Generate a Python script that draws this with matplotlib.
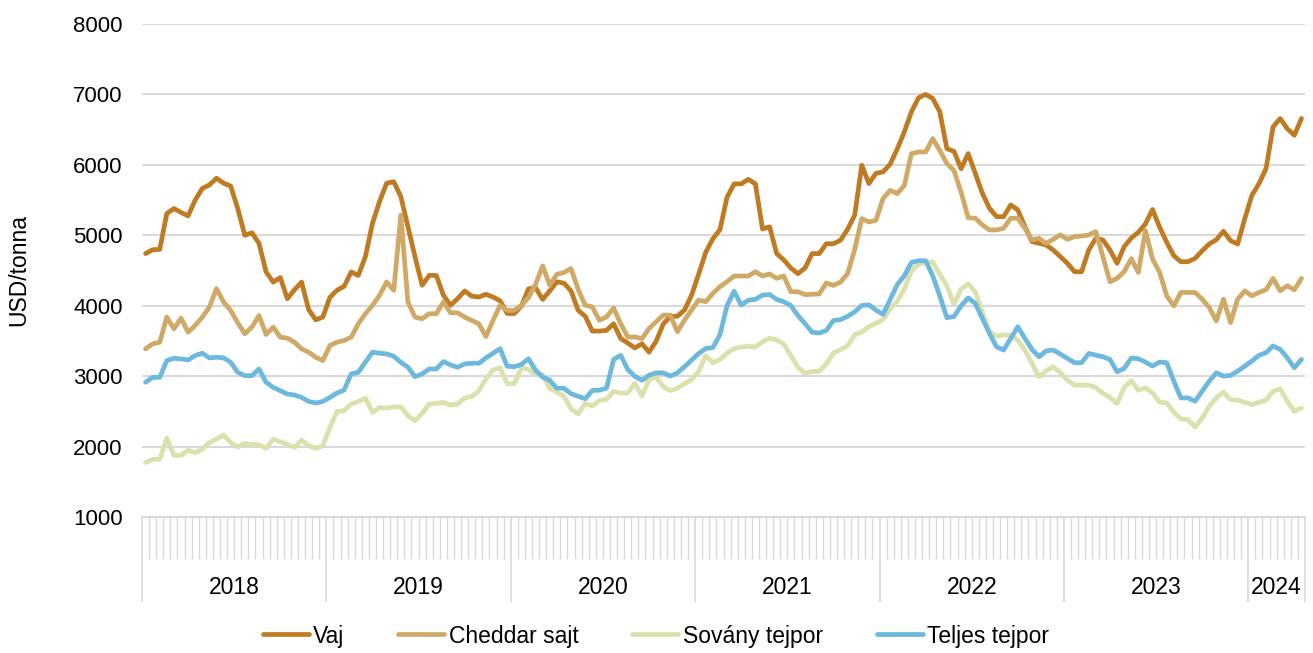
import matplotlib
matplotlib.use("Agg")
import matplotlib.pyplot as plt
from matplotlib.transforms import blended_transform_factory

plt.rcParams['font.family'] = ['Liberation Sans', 'DejaVu Sans']

years = ["2018", "2019", "2020", "2021", "2022", "2023", "2024"]
points_per_year = [26, 26, 26, 26, 26, 26, 8]

vaj = [4740, 4795, 4800, 5310, 5380, 5325, 5275, 5500, 5665, 5715, 5810, 5740, 5700, 5380, 5000, 5035, 4885, 4480, 4335, 4400, 4100, 4225, 4335, 3945,
       3800, 3838, 4120, 4220, 4275, 4480, 4430, 4695, 5170, 5480, 5740, 5760, 5550, 5120, 4695, 4290, 4430, 4430, 4150, 4005, 4100, 4210, 4135,
       4123, 4162, 4123, 4070, 3890, 3890, 3995, 4240, 4255, 4090, 4210, 4340, 4320, 4210, 3935, 3850, 3640, 3640, 3650, 3745, 3535, 3470, 3400,
       3460, 3340, 3495, 3740, 3850, 3850, 3940, 4150, 4450, 4760, 4950, 5080, 5540, 5730, 5730, 5795, 5730, 5090, 5120, 4740, 4650, 4535, 4455,
       4535, 4740, 4740, 4880, 4880, 4930, 5085, 5285, 5995, 5735, 5880, 5900, 6010, 6225, 6468, 6753, 6952, 7000, 6943, 6753, 6230, 6192, 5945, 6160,
       5882, 5597, 5384, 5265, 5265, 5431, 5360, 5123, 4910, 4886, 4863, 4791, 4697, 4602, 4483, 4483, 4791, 4957, 4934, 4791, 4602, 4839, 4960,
       5043, 5162, 5366, 5114, 4900, 4710, 4625, 4625, 4672, 4781, 4876, 4938, 5057, 4924, 4876, 5233, 5565, 5732, 5945, 6539, 6658, 6515, 6420, 6658]

cheddar = [3387, 3458, 3482, 3838, 3672, 3824, 3625, 3720, 3838, 3981, 4242, 4052, 3933, 3758, 3601, 3696, 3862, 3591, 3696, 3553, 3539, 3482, 3387, 3340,
           3268, 3221, 3435, 3482, 3506, 3553, 3743, 3886, 4005, 4147, 4337, 4218, 5287, 4052, 3838, 3815, 3886, 3886, 4052, 3900, 3900, 3838, 3790,
           3743, 3563, 3791, 4005, 3933, 3933, 4005, 4115, 4305, 4565, 4292, 4446, 4470, 4528, 4232, 4007, 3983, 3793, 3841, 3966, 3746, 3556, 3556,
           3533, 3678, 3773, 3867, 3867, 3630, 3796, 3938, 4081, 4057, 4175, 4270, 4341, 4422, 4422, 4422, 4483, 4422, 4450, 4389, 4422, 4199, 4199,
           4158, 4162, 4168, 4323, 4288, 4335, 4455, 4798, 5237, 5190, 5213, 5522, 5638, 5592, 5708, 6159, 6183, 6183, 6373, 6207, 6017, 5922, 5613, 5250,
           5242, 5147, 5076, 5076, 5100, 5242, 5242, 5100, 4934, 4957, 4886, 4943, 5005, 4943, 4981, 4990, 5005, 5052, 4697, 4341, 4389, 4483, 4668,
           4473, 5067, 4663, 4473, 4140, 3998, 4188, 4188, 4188, 4093, 3974, 3784, 4093, 3760, 4093, 4211, 4140, 4188, 4226, 4387, 4211, 4283, 4226, 4387]

sovany = [1772, 1819, 1819, 2119, 1876, 1876, 1948, 1914, 1962, 2057, 2105, 2166, 2057, 1995, 2043, 2033, 2024, 1976, 2105, 2067, 2033, 1986, 2090, 2010,
          1976, 2010, 2271, 2499, 2508, 2603, 2641, 2689, 2485, 2556, 2546, 2565, 2565, 2437, 2366, 2470, 2603, 2613, 2627, 2589, 2603, 2689, 2710,
          2793, 2960, 3088, 3117, 2892, 2892, 3117, 3098, 3022, 3022, 2825, 2773, 2714, 2536, 2465, 2612, 2576, 2655, 2671, 2785, 2760, 2760, 2900,
          2716, 2950, 2984, 2853, 2794, 2829, 2893, 2952, 3066, 3291, 3190, 3237, 3327, 3393, 3414, 3422, 3414, 3486, 3540, 3516, 3457, 3291, 3125,
          3040, 3066, 3069, 3173, 3328, 3375, 3434, 3588, 3628, 3702, 3750, 3802, 3956, 4063, 4235, 4496, 4591, 4615, 4625, 4449, 4283, 4021, 4235, 4310,
          4199, 3915, 3630, 3569, 3583, 3583, 3512, 3370, 3180, 2991, 3076, 3133, 3047, 2943, 2872, 2872, 2872, 2839, 2754, 2697, 2611, 2839, 2935,
          2800, 2834, 2762, 2629, 2620, 2487, 2392, 2382, 2278, 2406, 2572, 2691, 2772, 2667, 2658, 2629, 2596, 2629, 2658, 2786, 2819, 2644, 2501, 2549]

teljes = [2912, 2983, 2983, 3221, 3254, 3245, 3230, 3292, 3325, 3259, 3268, 3259, 3197, 3055, 3007, 3007, 3102, 2912, 2841, 2793, 2746, 2732, 2698, 2641,
          2618, 2641, 2698, 2760, 2803, 3031, 3055, 3197, 3340, 3325, 3316, 3283, 3197, 3126, 2993, 3031, 3102, 3102, 3207, 3159, 3126, 3173, 3183,
          3183, 3259, 3325, 3390, 3140, 3134, 3165, 3248, 3082, 2987, 2940, 2828, 2828, 2750, 2714, 2679, 2797, 2802, 2828, 3236, 3296, 3094, 2998,
          2940, 3014, 3047, 3047, 3000, 3047, 3133, 3227, 3322, 3393, 3405, 3588, 4003, 4204, 4010, 4078, 4090, 4152, 4159, 4090, 4057, 4002, 3860,
          3745, 3624, 3612, 3648, 3790, 3802, 3850, 3913, 4004, 4011, 3937, 3878, 4087, 4300, 4425, 4615, 4639, 4639, 4425, 4140, 3831, 3846, 3998, 4110,
          4033, 3820, 3607, 3417, 3370, 3536, 3701, 3536, 3379, 3275, 3360, 3370, 3313, 3251, 3190, 3190, 3322, 3299, 3275, 3237, 3062, 3109, 3256,
          3247, 3200, 3143, 3200, 3190, 2929, 2691, 2691, 2644, 2786, 2929, 3048, 3000, 3010, 3071, 3143, 3214, 3295, 3333, 3428, 3380, 3261, 3119, 3238]

series_names = ["Vaj", "Cheddar sajt", "Sovány tejpor", "Teljes tejpor"]
series_values = [vaj, cheddar, sovany, teljes]
series_colors = ["#BF7A22", "#CFA965", "#DCE0AD", "#6DB9DE"]

n = len(vaj)
xs = [i + 0.5 for i in range(n)]

fig = plt.figure(figsize=(13.13, 6.53), dpi=100)
ax = fig.add_axes([142 / 1313, 1 - 517 / 653, (1305 - 142) / 1313, (517 - 24) / 653])

for name, vals, col in zip(series_names, series_values, series_colors):
    ax.plot(xs, vals, color=col, lw=3.4, label=name, solid_joinstyle='round', solid_capstyle='round')

ax.set_xlim(0, n)
ax.set_ylim(1000, 8000)
ax.set_yticks(range(1000, 8001, 1000))
ax.yaxis.grid(True, color="#D9D9D9", lw=1.5)
ax.set_axisbelow(True)
ax.tick_params(axis='y', length=0, pad=14, labelsize=16)
for s in ["left", "right", "top"]:
    ax.spines[s].set_visible(False)
ax.spines["bottom"].set_color("#D9D9D9")
ax.spines["bottom"].set_linewidth(1.5)

# x ticks: minor at every point boundary, major at year boundaries
bounds = [0]
for c in points_per_year:
    bounds.append(bounds[-1] + c)
ax.set_xticks(bounds)
ax.set_xticklabels([])
ax.set_xticks(range(0, n + 1), minor=True)
ax.tick_params(axis='x', which='major', length=61, width=1.2, color="#D9D9D9", direction='out')
ax.tick_params(axis='x', which='minor', length=30, width=1.0, color="#D9D9D9", direction='out')

trans = blended_transform_factory(ax.transData, ax.transAxes)
for k, yr in enumerate(years):
    cx = (bounds[k] + bounds[k + 1]) / 2
    ax.text(cx, -0.142, yr, transform=trans, ha='center', va='center', fontsize=16.5)

fig.text(19 / 1313, 1 - 270 / 653, "USD/tonna", rotation=90, ha='center', va='center', fontsize=16.5)

fig.legend(loc='center', bbox_to_anchor=(656 / 1313, 1 - 636 / 653), ncol=4, frameon=False,
           fontsize=16.5, handlelength=2.0, handletextpad=0.2, columnspacing=2.35)

fig.savefig("out.png", dpi=100)
